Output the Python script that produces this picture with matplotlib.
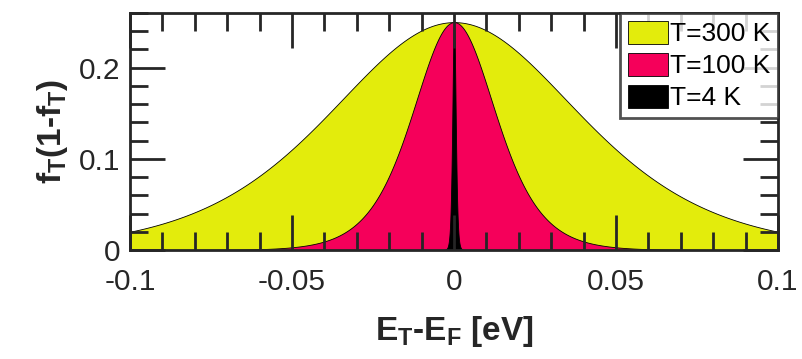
import numpy as np
import matplotlib
matplotlib.use("Agg")
import matplotlib.pyplot as plt
from matplotlib.ticker import MultipleLocator

# temperatures (K) and fill colours, largest first so narrower curves sit on top
temps = [300, 100, 4]
labels = ["T=300 K", "T=100 K", "T=4 K"]
colors = ["#E3EC0C", "#F5005A", "#000000"]

kB = 8.617e-5  # eV/K
energy = np.linspace(-0.1, 0.1, 40001)  # E_T - E_F in eV

plt.rcParams['font.family'] = ['Liberation Sans', 'DejaVu Sans']
plt.rcParams['mathtext.fontset'] = 'custom'
plt.rcParams['mathtext.rm'] = 'Liberation Sans:bold'
plt.rcParams['mathtext.it'] = 'Liberation Sans:bold'
plt.rcParams['mathtext.bf'] = 'Liberation Sans:bold'

fig = plt.figure(figsize=(8.03, 3.59), dpi=100)
ax = fig.add_axes([0.1619, 0.3036, 0.8070, 0.6602])

for T, lab, col in zip(temps, labels, colors):
    f = 1.0 / (np.exp(energy / (kB * T)) + 1.0)
    ax.fill_between(energy, 0, f * (1 - f), facecolor=col, edgecolor='black',
                    linewidth=0.6, label=lab)

ax.set_xlim(-0.1, 0.1)
ax.set_ylim(0, 0.26)
ax.xaxis.set_minor_locator(MultipleLocator(0.01))
ax.yaxis.set_minor_locator(MultipleLocator(0.02))
ax.set_xticks([-0.1, -0.05, 0, 0.05, 0.1])
ax.set_xticklabels(["-0.1", "-0.05", "0", "0.05", "0.1"])
ax.set_yticks([0, 0.1, 0.2])
ax.set_yticklabels(["0", "0.1", "0.2"])

edge = '#262626'
for s in ax.spines.values():
    s.set_linewidth(2)
    s.set_color(edge)
ax.tick_params(which='both', direction='in', top=True, right=True,
               color=edge, width=2, labelsize=21.5, labelcolor='#262626')
ax.tick_params(which='major', length=25)
ax.tick_params(which='minor', length=13)
ax.tick_params(axis='x', which='major', pad=13)
ax.tick_params(axis='y', which='major', pad=7)

ax.set_xlabel(r'E$_\mathregular{T}$-E$_\mathregular{F}$ [eV]', fontsize=24,
              fontweight='bold', color='#262626', labelpad=13)
ax.set_ylabel(r'f$_\mathregular{T}$(1-f$_\mathregular{T}$)', fontsize=24,
              fontweight='bold', color='#262626', labelpad=6)

leg = ax.legend(loc='upper right', fontsize=19, frameon=True, fancybox=False,
                borderaxespad=0, handlelength=1.5, handleheight=0.95,
                handletextpad=0.08, labelspacing=0.25, borderpad=0.3)
leg.get_frame().set_edgecolor(edge)
leg.get_frame().set_linewidth(2)
leg.set_zorder(10)

fig.savefig('out.png', dpi=100)
